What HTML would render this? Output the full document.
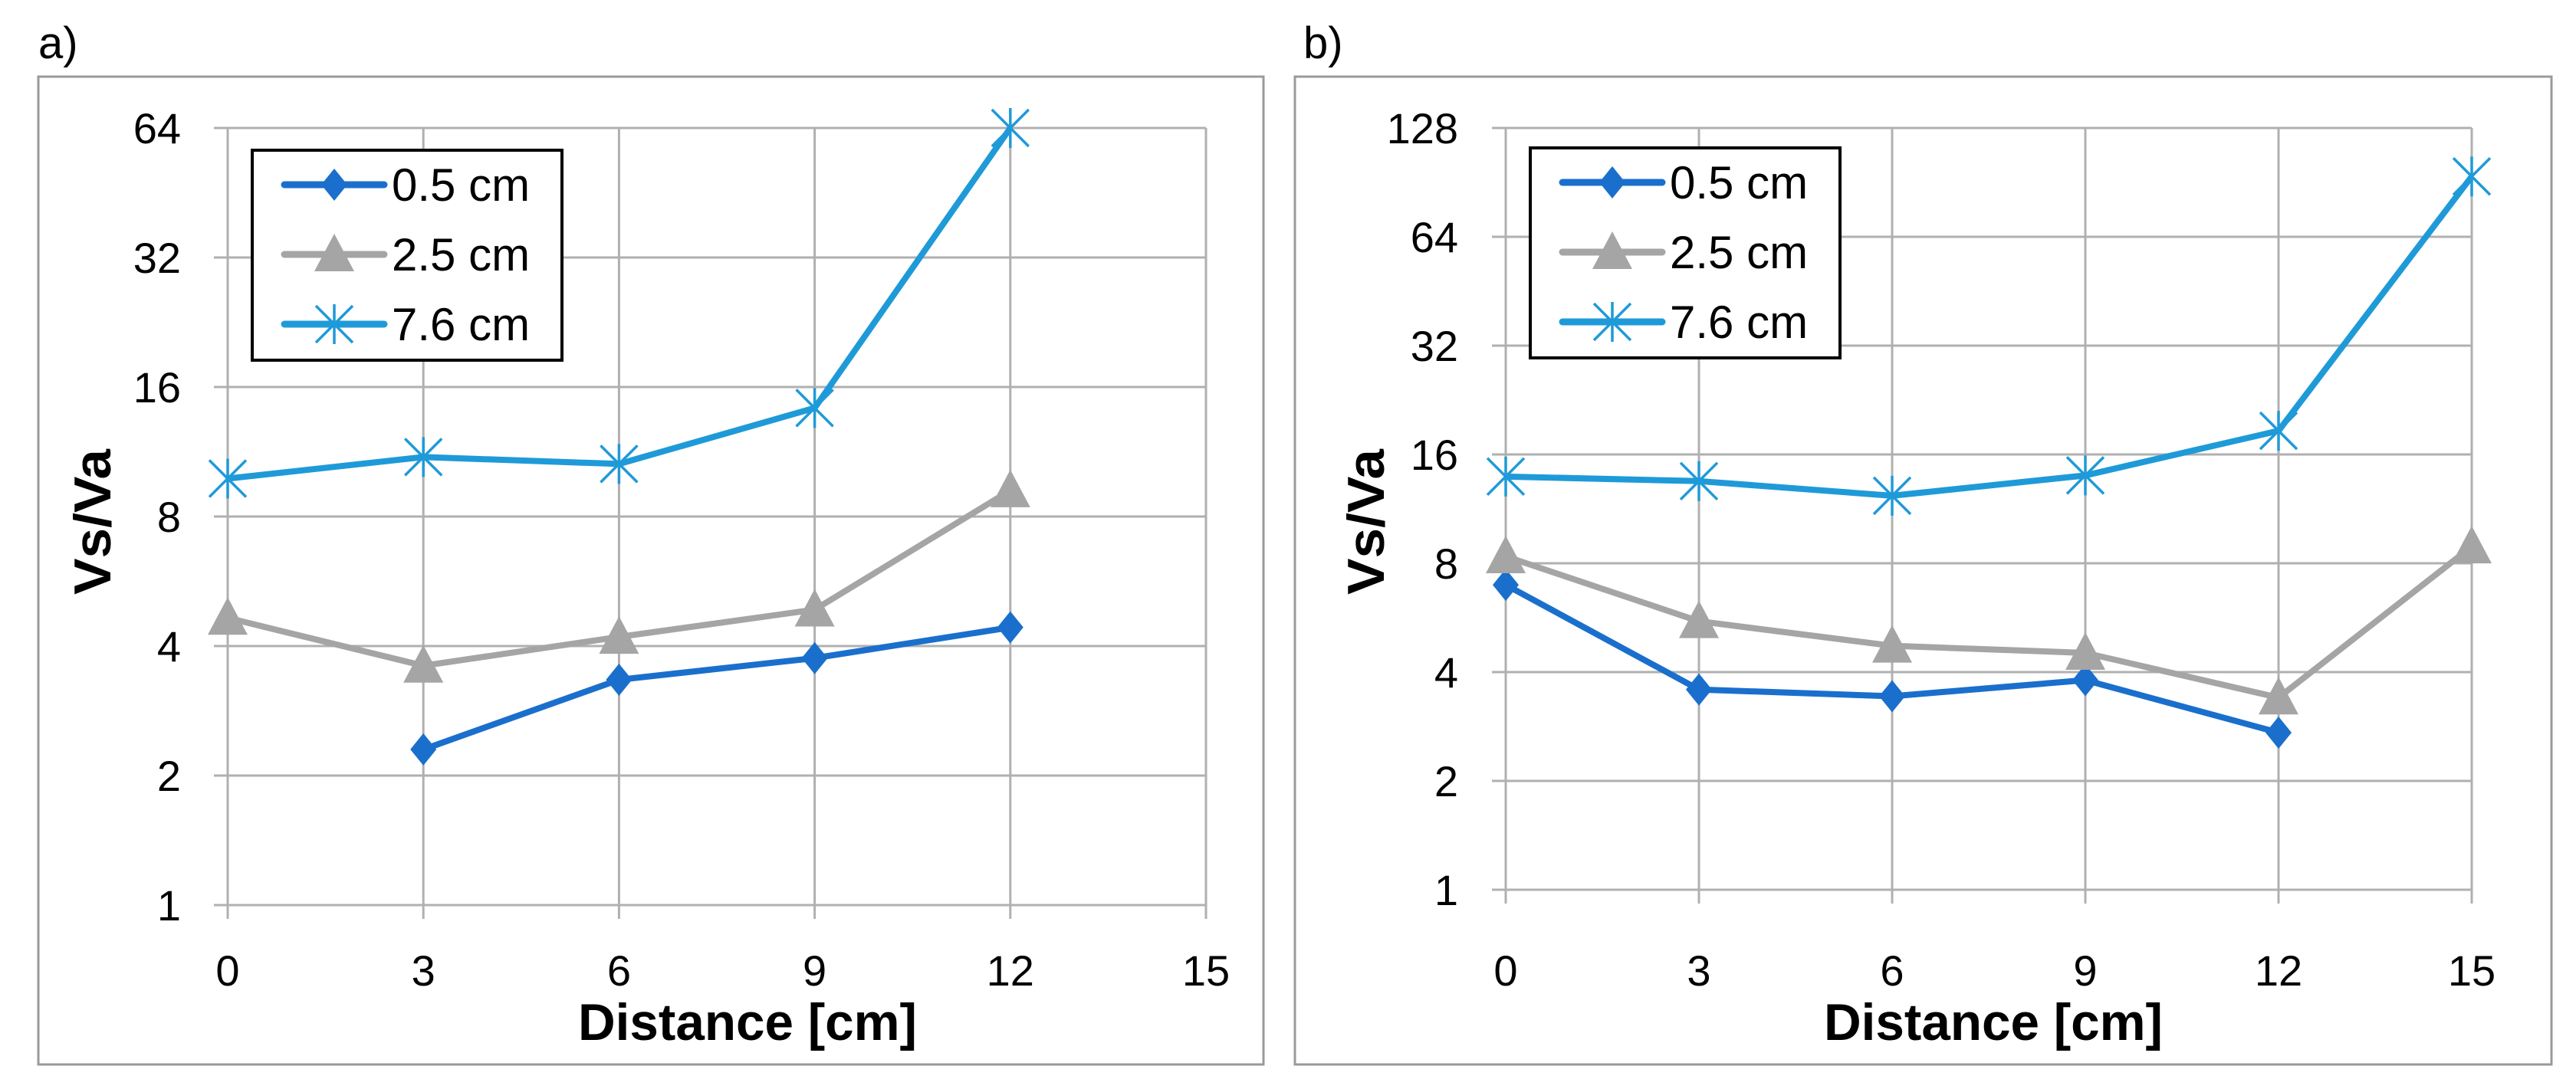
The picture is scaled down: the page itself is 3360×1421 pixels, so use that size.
<!DOCTYPE html>
<html><head><meta charset="utf-8"><style>
body{margin:0;background:#fff;}
svg{display:block;font-family:"Liberation Sans",sans-serif;}
</style></head><body>
<svg id="fig" width="3360" height="1421" viewBox="0 0 3360 1421" xmlns="http://www.w3.org/2000/svg"></svg>
<script>
const xTicks=[0,3,6,9,12,15];
const seriesNames=["0.5 cm","2.5 cm","7.6 cm"];
const aX=[0,3,6,9,12];
const a05=[null,2.3,3.34,3.75,4.42];
const a25=[4.65,3.6,4.2,4.86,9.2];
const a76=[9.8,11,10.6,14.3,64];
const aYTicks=[1,2,4,8,16,32,64];
const bX=[0,3,6,9,12,15];
const b05=[6.97,3.58,3.43,3.8,2.72,null];
const b25=[8.36,5.53,4.73,4.52,3.4,8.9];
const b76=[13.9,13.5,12.3,14.0,18.6,94];
const bYTicks=[1,2,4,8,16,32,64,128];

const NS="http://www.w3.org/2000/svg";
const svg=document.getElementById('fig');
const colors=["#1a6fcc","#a5a5a5","#1f9ad8"];
function mk(tag,attrs,parent){const e=document.createElementNS(NS,tag);for(const k in attrs)e.setAttribute(k,attrs[k]);(parent||svg).appendChild(e);return e;}

function marker(g,kind,x,y,c){
  if(kind===0){const m=mk('polygon',{points:`${x},${y-21} ${x+17},${y} ${x},${y+21} ${x-17},${y}`,fill:c},g);
    
    }
  else if(kind===1){const m=mk('polygon',{points:`${x},${y-27} ${x+26},${y+22} ${x-26},${y+22}`,fill:c},g);
    
    }
  else{const m=mk('path',{d:`M${x-24},${y-24}L${x+24},${y+24}M${x-24},${y+24}L${x+24},${y-24}M${x},${y-26}L${x},${y+26}`,stroke:c,'stroke-width':3.5,fill:'none'},g);
    
    }
}

function chart(o){
  const g=mk('g',{});
  
  
  const fr=mk('rect',{x:o.fx,y:100,width:o.fw,height:1289,fill:'#fff',stroke:'#9a9a9a','stroke-width':3},g);
  
  
  const lab=mk('text',{x:o.lx,y:76,'font-size':58,fill:'#000'},g);lab.textContent=o.label;
  
  
  const yMin=0,yMax=Math.log2(o.yTicks[o.yTicks.length-1]);
  const X=v=>o.x0+(v-0)/(15-0)*(o.x1-o.x0);
  const Y=v=>o.yb-(Math.log2(v)-yMin)/(yMax-yMin)*(o.yb-o.yt);
  o.yTicks.forEach(t=>{
    const l=mk('line',{x1:o.x0-18,x2:o.x1,y1:Y(t),y2:Y(t),stroke:'#b0b0b0','stroke-width':3},g);
    
    
    const tx=mk('text',{x:o.tlx,y:Y(t)+20,'font-size':56,'text-anchor':'end',fill:'#000'},g);tx.textContent=t;
    
    
  });
  xTicks.forEach(t=>{
    const l=mk('line',{x1:X(t),x2:X(t),y1:o.yt,y2:o.yb+18,stroke:'#b0b0b0','stroke-width':3},g);
    
    
    const tx=mk('text',{x:X(t),y:1286,'font-size':56,'text-anchor':'middle',fill:'#000'},g);tx.textContent=t;
    
    
  });
  const xt=mk('text',{x:o.xtc,y:1357,'font-size':68,'font-weight':'bold','text-anchor':'middle',textLength:442,lengthAdjust:'spacingAndGlyphs',fill:'#000'},g);
  xt.textContent='Distance [cm]';
  
  
  const yt=mk('text',{x:0,y:0,'font-size':68,'font-weight':'bold','text-anchor':'middle',textLength:190,lengthAdjust:'spacingAndGlyphs',fill:'#000',transform:`translate(${o.ytx},681) rotate(-90)`},g);
  yt.textContent='Vs/Va';
  
  
  o.series.forEach((s,i)=>{
    const sg=mk('g',{},g);
    
    
    let d='';o.xs.forEach((x,j)=>{if(s[j]==null)return;d+=(d?'L':'M')+X(x)+','+Y(s[j]);});
    const p=mk('path',{d,stroke:colors[i],'stroke-width':8,fill:'none','stroke-linejoin':'round'},sg);
    
    
    o.xs.forEach((x,j)=>{if(s[j]!=null)marker(sg,i,X(x),Y(s[j]),colors[i]);});
  });
  const lg=mk('g',{},g);
  
  
  const lr=mk('rect',{x:o.lgx,y:o.lgy,width:404,height:274,fill:'#fff',stroke:'#000','stroke-width':4},lg);
  
  
  seriesNames.forEach((n,i)=>{
    const cy=o.lgy+45+i*91;
    const ln=mk('line',{x1:o.lgx+42,x2:o.lgx+172,y1:cy,y2:cy,stroke:colors[i],'stroke-width':9,'stroke-linecap':'round'},lg);
    
    
    marker(lg,i,o.lgx+107,cy,colors[i]);
    const t=mk('text',{x:o.lgx+182,y:cy+21,'font-size':60,fill:'#000'},lg);t.textContent=n;
    
    
  });
}
chart({name:'chart-a',label:'a)',lx:50,fx:50,fw:1598,x0:297,x1:1573,yt:167,yb:1181,yTicks:aYTicks,tlx:236,xtc:975,ytx:144,xs:aX,series:[a05,a25,a76],lgx:329,lgy:196});
chart({name:'chart-b',label:'b)',lx:1700,fx:1689,fw:1639,x0:1964,x1:3224,yt:167,yb:1161,yTicks:bYTicks,tlx:1902,xtc:2600,ytx:1805,xs:bX,series:[b05,b25,b76],lgx:1996,lgy:193});
</script>
</body></html>
